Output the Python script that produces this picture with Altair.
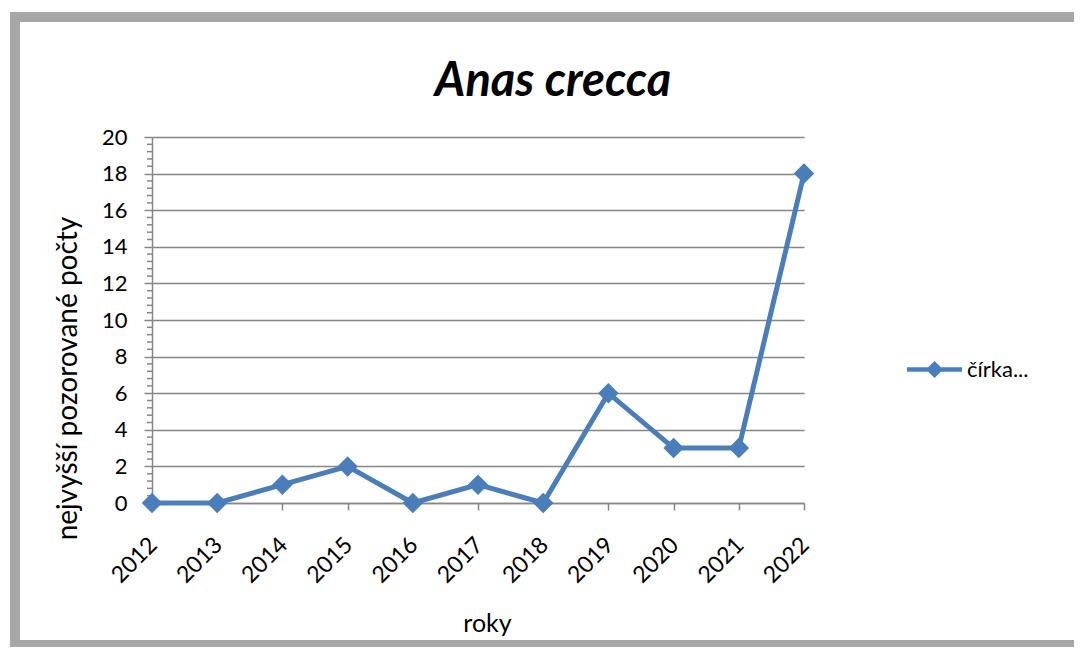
import altair as alt
import pandas as pd

# ---- data ----
years = ["2012", "2013", "2014", "2015", "2016", "2017", "2018", "2019", "2020", "2021", "2022"]
counts = [0, 0, 1, 2, 0, 1, 0, 6, 3, 3, 18]
series_name = "čírka..."
chart_title = "Anas crecca"
x_title = "roky"
y_title = "nejvyšší pozorované počty"
y_major = [0, 2, 4, 6, 8, 10, 12, 14, 16, 18, 20]
y_minor = [v / 10 for v in range(0, 201, 4) if v % 20 != 0]

df = pd.DataFrame({"rok": years, "pocet": counts, "serie": [series_name] * len(years)})
minor_df = pd.DataFrame({"pocet": y_minor})

GRID = "#868686"
BLUE = "#4a7ebb"
FRAME = "#a6a6a6"
FONT = "Lato"


def y_scale():
    return alt.Scale(domain=[0, 20], nice=False, zero=True)


def x_axis():
    return alt.Axis(
        title=x_title, grid=False,
        labelAngle=-45, labelAlign="right", labelBaseline="middle",
        labelFont=FONT, labelFontSize=23, labelColor="black", labelPadding=31, labelOffset=1,
        tickSize=7, tickColor=GRID, tickWidth=1.5,
        domainColor=GRID, domainWidth=1.5,
        titleFont=FONT, titleFontSize=25, titleFontWeight="normal", titleColor="black",
        titleX=335, titleY=128, titleBaseline="alphabetic", titleAlign="center",
    )


def y_axis():
    return alt.Axis(
        title=y_title, values=y_major, format="d", labelOverlap=False, tickCount=11,
        grid=True, gridColor=GRID, gridWidth=1.5,
        tickSize=8, tickColor=GRID, tickWidth=1.5,
        domainColor=GRID, domainWidth=1.5,
        labelFont=FONT, labelFontSize=22, labelColor="black", labelPadding=17,
        titleFont=FONT, titleFontSize=28, titleFontWeight="normal", titleColor="black",
        titleAngle=-90, titleX=-76, titleY=241, titleBaseline="alphabetic", titleAlign="center",
    )


def x_enc():
    return alt.X("rok:O", scale=alt.Scale(type="point", padding=0), axis=x_axis())


def y_enc():
    return alt.Y("pocet:Q", scale=y_scale(), axis=y_axis())


legend_path = ("M-1,-0.08L-0.23,-0.08L0,-0.31L0.23,-0.08L1,-0.08"
               "L1,0.08L0.23,0.08L0,0.31L-0.23,0.08L-1,0.08Z")

frame = alt.Chart(alt.Data(values=[{}])).mark_rect(
    fillOpacity=0, stroke=FRAME, strokeWidth=10
).encode(x=alt.value(-137), x2=alt.value(940), y=alt.value(-120), y2=alt.value(508))

line = alt.Chart(df).mark_line(color=BLUE, strokeWidth=5).encode(x=x_enc(), y=y_enc())

minor = alt.Chart(minor_df).mark_rule(
    color=GRID, strokeWidth=1.5
).encode(y=y_enc(), x=alt.value(-5), x2=alt.value(0))

points = alt.Chart(df).mark_point(shape="diamond", filled=True, size=420, opacity=1).encode(
    x=x_enc(),
    y=y_enc(),
    color=alt.Color(
        "serie:N",
        scale=alt.Scale(range=[BLUE]),
        legend=alt.Legend(
            title=None, orient="none", legendX=755, legendY=205,
            symbolType=legend_path, symbolSize=3025, symbolStrokeWidth=0,
            symbolFillColor=BLUE, symbolOpacity=1,
            labelFont=FONT, labelFontSize=22, labelColor="black", labelOffset=5,
            padding=0,
        ),
    ),
)

title_layer = alt.Chart(alt.Data(values=[{"t": chart_title}])).mark_text(
    font=FONT, fontSize=47, fontWeight="bold", fontStyle="italic",
    align="center", baseline="alphabetic", color="black"
).encode(text="t:N", x=alt.value(401), y=alt.value(-41))

chart = alt.layer(frame, line, minor, points, title_layer).properties(
    width=652, height=366,
    padding={"left": 144, "top": 129, "right": 270, "bottom": 144},
    autosize=alt.AutoSizeParams(type="none"),
    background="white",
).configure_view(stroke=None)

chart.save("out.html", embed_options={"renderer": "svg", "actions": False})
